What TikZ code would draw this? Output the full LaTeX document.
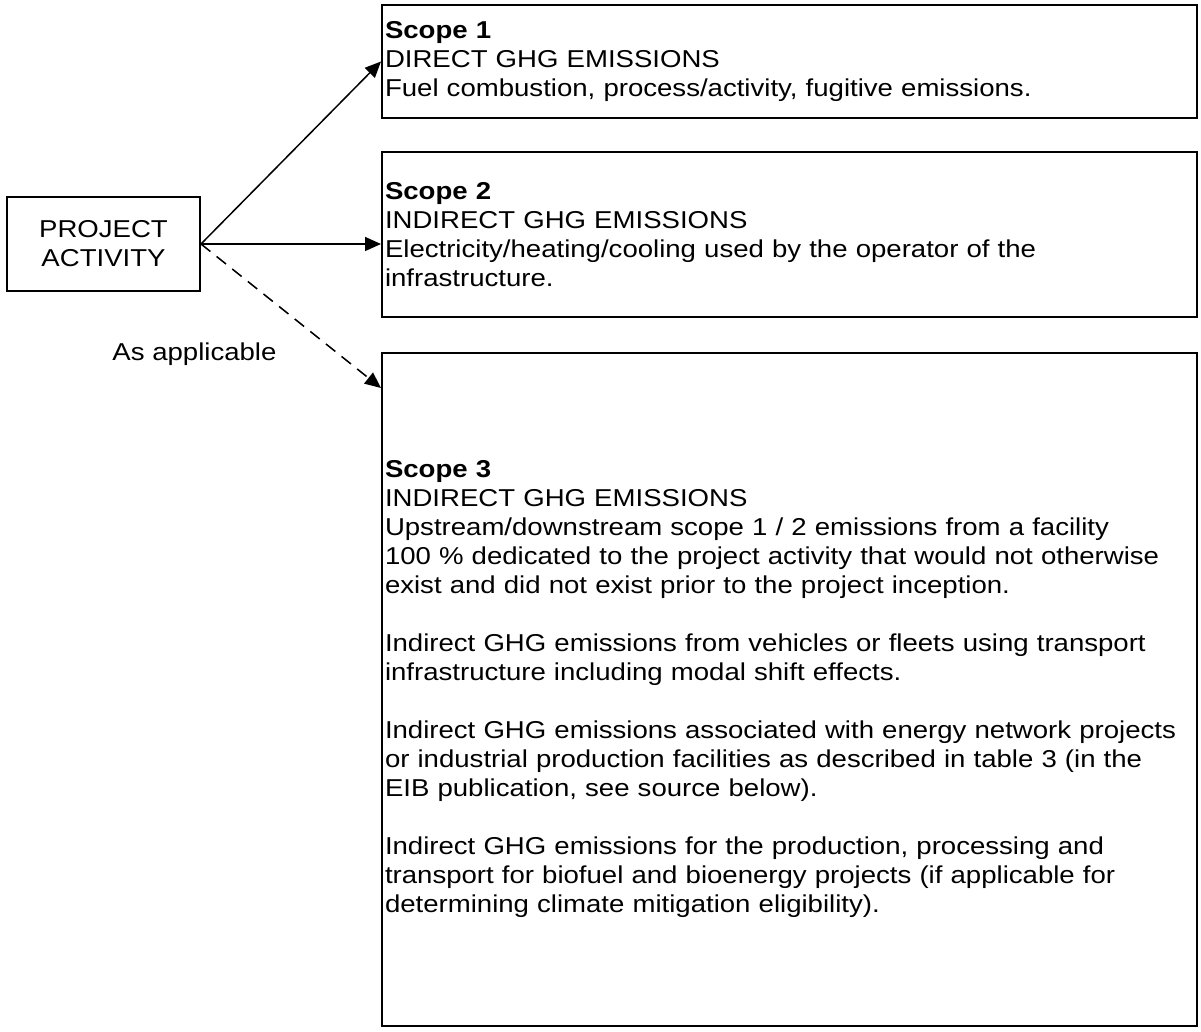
\documentclass[tikz,border=0pt]{standalone}
\usepackage{fontspec}
\setmainfont{Liberation Sans}[FakeStretch=1.13]
\usepackage{tikz}
\usetikzlibrary{arrows.meta,positioning}

\begin{document}
\begin{tikzpicture}[
    node distance=17pt,
    font=\fontsize{12.2pt}{14.5pt}\selectfont,
    actbox/.style={draw=black, line width=1pt, minimum width=96.5pt, minimum height=47pt, align=center, inner sep=0pt},
    scopebox/.style={draw=black, line width=1pt, text width=404.5pt, inner xsep=1.5pt, inner ysep=0pt, align=left},
    arrow/.style={-{Triangle[length=8pt,width=7pt]}, line width=0.75pt, color=black}
]
    \useasboundingbox (0,0) rectangle (600.5pt,-516pt);

    \node[actbox] (pa) at (51.75pt,-122pt) {PROJECT\\ACTIVITY};
    \node[scopebox, minimum height=56.5pt] (s1) at (394.75pt,-30.75pt) {\textbf{Scope 1}\\DIRECT GHG EMISSIONS\\Fuel combustion, process/activity, fugitive emissions.};
    \node[scopebox, minimum height=82.5pt, below=16pt of s1] (s2) {\textbf{Scope 2}\\INDIRECT GHG EMISSIONS\\Electricity/heating/cooling used by the operator of the\\infrastructure.};
    \node[scopebox, minimum height=336.5pt, below=17pt of s2] (s3) {\textbf{Scope 3}\\INDIRECT GHG EMISSIONS\\Upstream/downstream scope 1 / 2 emissions from a facility\\100 \% dedicated to the project activity that would not otherwise\\exist and did not exist prior to the project inception.\\[14.5pt]Indirect GHG emissions from vehicles or fleets using transport\\infrastructure including modal shift effects.\\[14.5pt]Indirect GHG emissions associated with energy network projects\\or industrial production facilities as described in table 3 (in the\\EIB publication, see source below).\\[14.5pt]Indirect GHG emissions for the production, processing and\\transport for biofuel and bioenergy projects (if applicable for\\determining climate mitigation eligibility).};
    \node (lbl) at (97.25pt,-177pt) {As applicable};

    \draw[arrow] (pa.east) -- (s1.west);
    \draw[arrow] (pa.east) -- (pa.east -| s2.west);
    \draw[arrow, dash pattern=on 6pt off 4pt] (pa.east) -- ([yshift=-18pt]s3.north west);

\end{tikzpicture}
\end{document}
